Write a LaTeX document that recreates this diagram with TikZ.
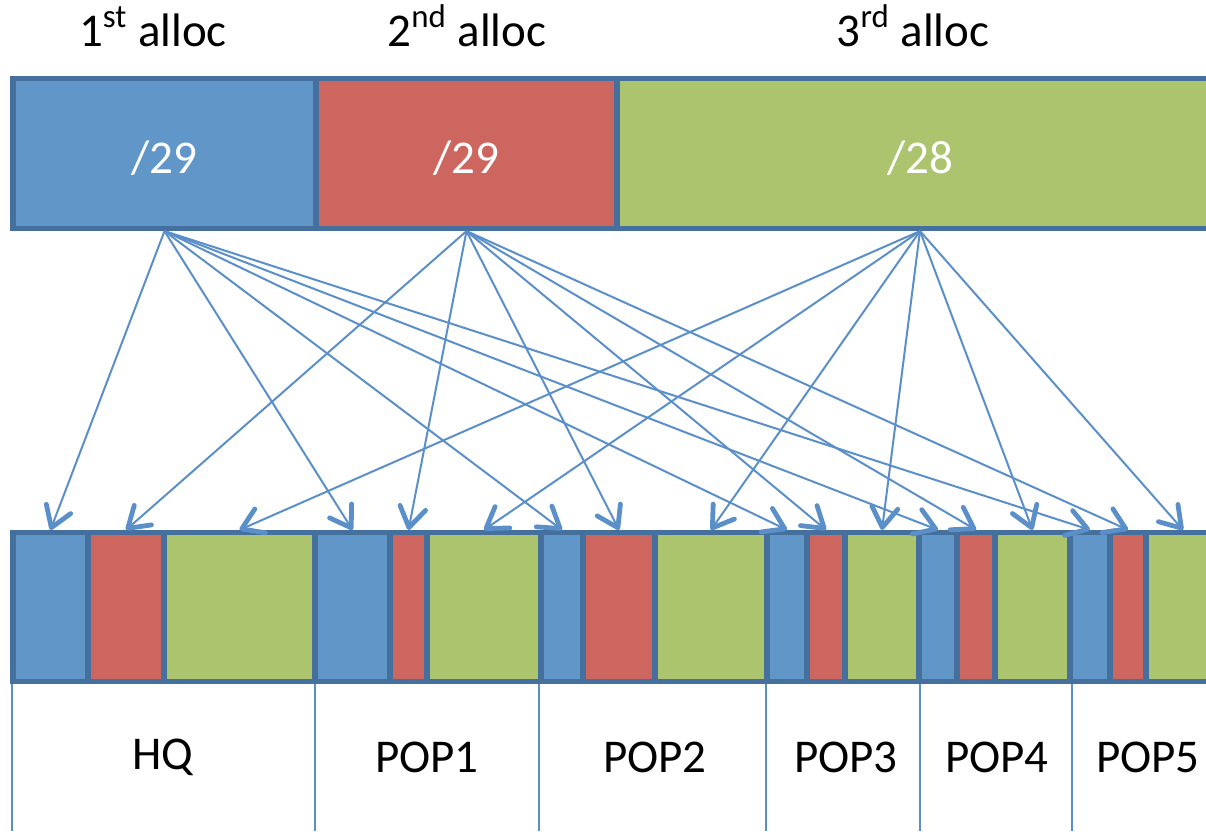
\documentclass[tikz,border=0pt]{standalone}
\usepackage{fontspec}
\setmainfont{Carlito}
\usetikzlibrary{arrows.meta}

\definecolor{cellblue}{RGB}{97,150,200}
\definecolor{cellred}{RGB}{205,102,95}
\definecolor{cellgreen}{RGB}{171,196,109}
\definecolor{edge}{RGB}{69,112,157}
\definecolor{wire}{RGB}{91,143,201}

\begin{document}
\begin{tikzpicture}[x=0.5pt, y=-0.5pt,
    txt/.style={font=\fontsize{23.5}{28}\selectfont, inner sep=0pt},
    cell/.style={draw=edge, line width=2.6pt, inner sep=0pt},
    alloc/.style={cell, minimum height=75pt, txt, text=white,
      text height=20pt, text depth=0pt},
    link/.style={-{Straight Barb[length=10pt, width=13pt, line width'=2.4pt, round]},
      draw=wire, line width=1pt},
    sep/.style={draw=wire, line width=0.75pt}]
  \useasboundingbox (0,0) rectangle (1206,831);
  \clip (0,0) rectangle (1206,831);

  % allocation headers
  \node[txt, anchor=base] (head1) at (153,46) {1\textsuperscript{st} alloc};
  \node[txt, anchor=base] (head2) at (467,46) {2\textsuperscript{nd} alloc};
  \node[txt, anchor=base] (head3) at (913,46) {3\textsuperscript{rd} alloc};

  % the three blocks
  \node[alloc, fill=cellblue, minimum width=151.5pt] (alloc1) at (164.5,153.5) {/29};
  \node[alloc, fill=cellred, minimum width=150.5pt] (alloc2) at (466.5,153.5) {/29};
  \node[alloc, fill=cellgreen, minimum width=303pt] (alloc3) at (920,153.5) {/28};

  % sites: one blue, red and green slice each
  \foreach \nm/\col/\l/\r in {
      hqb/cellblue/13/88, hqr/cellred/88/164, hqg/cellgreen/164/315,
      pAb/cellblue/315/390, pAr/cellred/390/427, pAg/cellgreen/427/541,
      pBb/cellblue/541/583, pBr/cellred/583/655, pBg/cellgreen/655/767,
      pCb/cellblue/767/807, pCr/cellred/807/845, pCg/cellgreen/845/919,
      pDb/cellblue/919/957, pDr/cellred/957/995, pDg/cellgreen/995/1070,
      pEb/cellblue/1070/1110, pEr/cellred/1110/1146, pEg/cellgreen/1146/1220}
    \node[cell, fill=\col, minimum width={(\r-\l)*0.5pt},
      minimum height=74.5pt] (\nm) at ({(\l+\r)/2},607) {};

  % site columns
  \foreach \x in {12,315,539,766,920,1072}
    \draw[sep] (\x,684) -- (\x,831);

  \node[txt] (hq) at (163,757) {HQ};
  \node[txt] (pop1) at (427,757) {POP1};
  \node[txt] (pop2) at (655,757) {POP2};
  \node[txt] (pop3) at (846,757) {POP3};
  \node[txt] (pop4) at (997,757) {POP4};
  \node[txt] (pop5) at (1148,757) {POP5};

  % each block split over the sites
  \foreach \s in {hq,pA,pB,pC,pD,pE} {
    \draw[link] (alloc1.south) -- (\s b.north);
    \draw[link] (alloc2.south) -- (\s r.north);
    \draw[link] (alloc3.south) -- (\s g.north);
  }
\end{tikzpicture}
\end{document}
